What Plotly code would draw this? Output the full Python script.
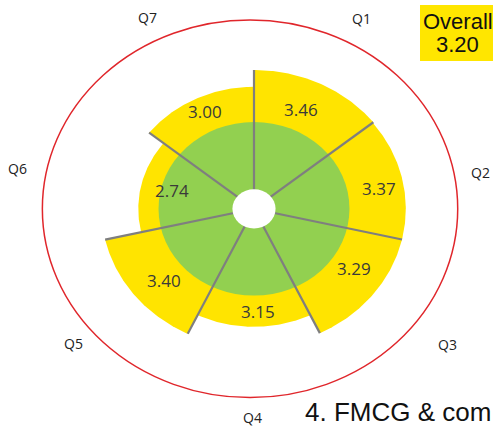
import numpy as np
import plotly.graph_objects as go

# ---------------- data ----------------
questions = ["Q1", "Q2", "Q3", "Q4", "Q5", "Q6", "Q7"]
scores = [3.46, 3.37, 3.29, 3.15, 3.40, 2.74, 3.00]          # printed values
bar_reach = [3.47, 3.45, 3.45, 2.95, 3.47, 2.63, 3.05]       # drawn outer radius of each yellow bar
benchmark_radius = 2.17                                      # green disc
overall_label = "Overall"
overall_score = 3.20
footer_text = "4. FMCG & com"

# ---------------- styling / layout ----------------
W, H = 493, 430
CX_PX, CY_PX = 254, 208.8       # centre of the wheel in pixels
PX_X, PX_Y = 44.0, 40.0         # pixels per radial unit (horizontally stretched)
HOLE = 0.49
RING = 4.72
RING_DX = -0.09
qlabel_r = [5.36, 5.22, 5.55, 5.22, 5.31, 5.46, 5.35]
qlabel_dtheta = [1.5, 2.9, -0.8, 0.5, -0.7, -2.1, -1.1]
value_label_r = [2.70, 2.89, 2.72, 2.58, 2.72, 1.93, 2.67]
value_label_dtheta = [-2.6, 2.7, -5.4, -2.0, -2.7, 1.2, 1.1]

YELLOW = "#FFE400"
GREEN = "#92D050"
GRAY = "#7F7F7F"
RED = "#E0262B"

n = len(questions)
step = 360.0 / n

def pol(r, deg):
    t = np.deg2rad(deg)
    return r * np.sin(t), r * np.cos(t)

fig = go.Figure()

# yellow bars (wedges)
for i, (q, r) in enumerate(zip(questions, bar_reach)):
    a0, a1 = i * step, (i + 1) * step
    th = np.linspace(a0, a1, 80)
    xs, ys = pol(r, th)
    xs = np.concatenate([[0], xs, [0]])
    ys = np.concatenate([[0], ys, [0]])
    fig.add_trace(go.Scatter(x=xs, y=ys, mode="lines", fill="toself",
                             fillcolor=YELLOW, line=dict(width=0, color=YELLOW),
                             hoverinfo="text", text=f"{q}: {scores[i]:.2f}",
                             showlegend=False))

shapes = []
# outer red ring
shapes.append(dict(type="circle", xref="x", yref="y",
                   x0=RING_DX - RING, x1=RING_DX + RING, y0=-RING, y1=RING,
                   line=dict(color=RED, width=1.5), layer="below"))
# green disc
shapes.append(dict(type="circle", xref="x", yref="y",
                   x0=-benchmark_radius, x1=benchmark_radius,
                   y0=-benchmark_radius, y1=benchmark_radius,
                   fillcolor=GREEN, line=dict(width=0), layer="above"))
# gray separators
for i in range(n):
    ang = i * step
    r_end = max(bar_reach[i - 1], bar_reach[i])
    x0, y0 = pol(HOLE * 0.9, ang)
    x1, y1 = pol(r_end, ang)
    shapes.append(dict(type="line", xref="x", yref="y", x0=x0, y0=y0, x1=x1, y1=y1,
                       line=dict(color=GRAY, width=2.2), layer="above"))
# centre hole
shapes.append(dict(type="circle", xref="x", yref="y",
                   x0=-HOLE, x1=HOLE, y0=-HOLE, y1=HOLE,
                   fillcolor="white", line=dict(width=0), layer="above"))
# overall box
shapes.append(dict(type="rect", xref="paper", yref="paper",
                   x0=420 / W, x1=1.02, y0=1 - 61 / H, y1=1 - 5 / H,
                   fillcolor="#FFE600", line=dict(width=0), layer="above"))

annotations = []
for i, q in enumerate(questions):
    c = (i + 0.5) * step
    x, y = pol(qlabel_r[i], c + qlabel_dtheta[i])
    annotations.append(dict(x=x, y=y, xref="x", yref="y", text=q, showarrow=False,
                            font=dict(family="Open Sans", size=14, color="#222222")))
    x, y = pol(value_label_r[i], c + value_label_dtheta[i])
    annotations.append(dict(x=x, y=y, xref="x", yref="y", text=f"{scores[i]:.2f}",
                            showarrow=False,
                            font=dict(family="Open Sans", size=17, color="#3A3A3A")))

annotations.append(dict(x=457.5 / W, y=1 - 22 / H, xref="paper", yref="paper",
                        text=overall_label, showarrow=False, xanchor="center", yanchor="middle",
                        font=dict(family="Liberation Sans, Arial", size=22, color="#111111")))
annotations.append(dict(x=457.5 / W, y=1 - 44 / H, xref="paper", yref="paper",
                        text=f"{overall_score:.2f}", showarrow=False, xanchor="center", yanchor="middle",
                        font=dict(family="Liberation Sans, Arial", size=22, color="#111111")))
annotations.append(dict(x=303 / W, y=1 - 412 / H, xref="paper", yref="paper",
                        text=footer_text, showarrow=False, xanchor="left", yanchor="middle",
                        font=dict(family="Liberation Sans, Arial", size=26, color="#111111")))

fig.update_layout(
    width=W, height=H,
    margin=dict(l=0, r=0, t=0, b=0, pad=0),
    paper_bgcolor="white", plot_bgcolor="white",
    xaxis=dict(range=[-CX_PX / PX_X, (W - CX_PX) / PX_X], visible=False, fixedrange=True),
    yaxis=dict(range=[-(H - CY_PX) / PX_Y, CY_PX / PX_Y], visible=False, fixedrange=True),
    shapes=shapes, annotations=annotations, showlegend=False,
)

fig.write_html("out.html", config={"displayModeBar": False},
               post_script="document.body.style.margin='0';document.body.style.overflow='hidden';")
